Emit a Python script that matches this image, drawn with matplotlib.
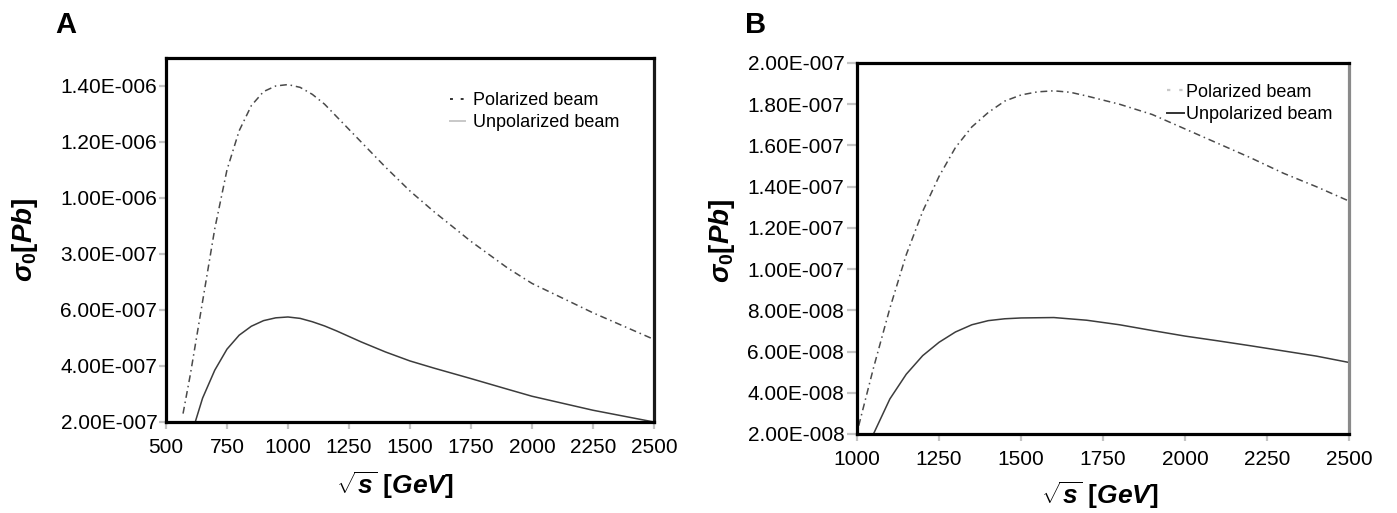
import matplotlib
matplotlib.use("Agg")
import matplotlib.pyplot as plt
from matplotlib.lines import Line2D

plt.rcParams["font.family"] = ["Liberation Sans", "DejaVu Sans"]
plt.rcParams["mathtext.fontset"] = "custom"
plt.rcParams["mathtext.rm"] = "Liberation Sans:bold"
plt.rcParams["mathtext.it"] = "Liberation Sans:bold:italic"
plt.rcParams["mathtext.bf"] = "Liberation Sans:bold:italic"

# Panel A: cross section vs. centre-of-mass energy
a_pol_x = [570, 600, 650, 700, 750, 800, 850, 900, 950, 1000, 1050, 1100, 1150,
           1200, 1250, 1300, 1400, 1500, 1600, 1750, 1900, 2000, 2250, 2500]
a_pol_y = [2.3e-7, 3.7e-7, 6.3e-7, 8.9e-7, 11.0e-7, 12.4e-7, 13.3e-7, 13.8e-7,
           14.0e-7, 14.05e-7, 13.95e-7, 13.7e-7, 13.35e-7, 12.9e-7, 12.45e-7,
           12.0e-7, 11.1e-7, 10.25e-7, 9.5e-7, 8.45e-7, 7.5e-7, 6.95e-7,
           5.9e-7, 4.95e-7]
a_unp_x = [620, 650, 700, 750, 800, 850, 900, 950, 1000, 1050, 1100, 1150, 1200,
           1300, 1400, 1500, 1600, 1750, 1900, 2000, 2250, 2500]
a_unp_y = [2.0e-7, 2.85e-7, 3.85e-7, 4.6e-7, 5.1e-7, 5.42e-7, 5.62e-7, 5.72e-7,
           5.75e-7, 5.7e-7, 5.58e-7, 5.43e-7, 5.25e-7, 4.86e-7, 4.5e-7, 4.18e-7,
           3.92e-7, 3.55e-7, 3.17e-7, 2.92e-7, 2.42e-7, 2.0e-7]
a_xticks = [500, 750, 1000, 1250, 1500, 1750, 2000, 2250, 2500]
a_yticks = [2e-7, 4e-7, 6e-7, 8e-7, 10e-7, 12e-7, 14e-7]
a_ylabels = ["2.00E-007", "4.00E-007", "6.00E-007", "3.00E-007",
             "1.00E-006", "1.20E-006", "1.40E-006"]

# Panel B
b_pol_x = [1005, 1050, 1100, 1150, 1200, 1250, 1300, 1350, 1400, 1450, 1500,
           1550, 1600, 1650, 1700, 1800, 1900, 2000, 2100, 2200, 2300, 2400, 2500]
b_pol_y = [2.4e-8, 5.2e-8, 8.1e-8, 10.7e-8, 12.8e-8, 14.5e-8, 15.9e-8, 16.9e-8,
           17.6e-8, 18.15e-8, 18.45e-8, 18.6e-8, 18.65e-8, 18.58e-8, 18.4e-8,
           18.0e-8, 17.5e-8, 16.8e-8, 16.1e-8, 15.4e-8, 14.65e-8, 14.0e-8, 13.3e-8]
b_unp_x = [1050, 1100, 1150, 1200, 1250, 1300, 1350, 1400, 1450, 1500, 1600, 1700,
           1800, 1900, 2000, 2100, 2200, 2300, 2400, 2500]
b_unp_y = [2.0e-8, 3.7e-8, 4.9e-8, 5.8e-8, 6.45e-8, 6.95e-8, 7.3e-8, 7.5e-8,
           7.59e-8, 7.63e-8, 7.65e-8, 7.52e-8, 7.3e-8, 7.02e-8, 6.75e-8, 6.52e-8,
           6.28e-8, 6.03e-8, 5.78e-8, 5.47e-8]
b_xticks = [1000, 1250, 1500, 1750, 2000, 2250, 2500]
b_yticks = [2e-8, 4e-8, 6e-8, 8e-8, 10e-8, 12e-8, 14e-8, 16e-8, 18e-8, 20e-8]
b_ylabels = ["2.00E-008", "4.00E-008", "6.00E-008", "8.00E-008", "1.00E-007",
             "1.20E-007", "1.40E-007", "1.60E-007", "1.80E-007", "2.00E-007"]

legend_labels = ["Polarized beam", "Unpolarized beam"]

LINE = "#3c3c3c"
DASHDOT = (0, (4.5, 2.5, 1.0, 2.5))
XLABEL = r"$\sqrt{s}\ [GeV]$"
YLABEL = r"$\sigma_0[Pb]$"

fig = plt.figure(figsize=(13.97, 5.13), dpi=100)
ax_a = fig.add_axes([0.1188, 0.1774, 0.3493, 0.7096])
ax_b = fig.add_axes([0.6135, 0.1540, 0.3522, 0.7232])


def style_axes(ax, right_color, ytick_len, ytick_pad):
    for side in ("left", "top", "bottom"):
        ax.spines[side].set_linewidth(2.3)
        ax.spines[side].set_color("black")
    ax.spines["right"].set_linewidth(2.3)
    ax.spines["right"].set_color(right_color)
    ax.tick_params(axis="y", direction="out", length=ytick_len, width=1.6,
                   color="#c4c4c4", pad=ytick_pad, labelsize=15)
    ax.tick_params(axis="x", direction="out", length=5, width=1.6,
                   color="#c4c4c4", pad=6.5, labelsize=15)


# ---- Panel A ----
ax_a.plot(a_pol_x, a_pol_y, color="#4a4a4a", lw=1.1, linestyle=DASHDOT)
ax_a.plot(a_unp_x, a_unp_y, color=LINE, lw=1.1)
ax_a.set_xlim(500, 2500)
ax_a.set_ylim(2e-7, 15e-7)
ax_a.set_xticks(a_xticks)
ax_a.set_xticklabels([str(v) for v in a_xticks])
ax_a.set_yticks(a_yticks)
ax_a.set_yticklabels(a_ylabels)
style_axes(ax_a, "#1a1a1a", 5, 1.2)
ax_a.set_xlabel(XLABEL, fontsize=19)
ax_a.xaxis.set_label_coords(0.469, -0.173)
ax_a.xaxis.label.set_va("center")
ax_a.set_ylabel(YLABEL, fontsize=20)
ax_a.yaxis.set_label_coords(-0.289, 0.5)
ax_a.yaxis.label.set_va("center")

handles_a = [Line2D([], [], color="#333333", lw=1.4, linestyle=(0, (1.5, 4))),
             Line2D([], [], color="#c8c8c8", lw=1.4)]
ax_a.legend(handles_a, legend_labels, loc="upper left",
            bbox_to_anchor=(0.582, 0.907), frameon=False, fontsize=13,
            handlelength=0.85, handletextpad=0.45, labelspacing=0.3,
            borderpad=0, borderaxespad=0)

# ---- Panel B ----
ax_b.plot(b_pol_x, b_pol_y, color="#4a4a4a", lw=1.1, linestyle=DASHDOT)
ax_b.plot(b_unp_x, b_unp_y, color=LINE, lw=1.1)
ax_b.set_xlim(1000, 2500)
ax_b.set_ylim(2e-8, 20e-8)
ax_b.set_xticks(b_xticks)
ax_b.set_xticklabels([str(v) for v in b_xticks])
ax_b.set_yticks(b_yticks)
ax_b.set_yticklabels(b_ylabels)
style_axes(ax_b, "#8a8a8a", 7, 2.2)
ax_b.set_xlabel(XLABEL, fontsize=19)
ax_b.xaxis.set_label_coords(0.494, -0.164)
ax_b.xaxis.label.set_va("center")
ax_b.set_ylabel(YLABEL, fontsize=20)
ax_b.yaxis.set_label_coords(-0.274, 0.52)
ax_b.yaxis.label.set_va("center")

handles_b = [Line2D([], [], color="#c8c8c8", lw=1.6, linestyle=(0, (1.5, 4))),
             Line2D([], [], color="#333333", lw=1.4)]
ax_b.legend(handles_b, legend_labels, loc="upper left",
            bbox_to_anchor=(0.630, 0.944), frameon=False, fontsize=13,
            handlelength=0.95, handletextpad=0.12, labelspacing=0.3,
            borderpad=0, borderaxespad=0)

fig.text(0.0394, 0.9357, "A", fontsize=21, fontweight="bold", ha="left", va="baseline")
fig.text(0.5333, 0.9357, "B", fontsize=21, fontweight="bold", ha="left", va="baseline")

fig.savefig("out.png", dpi=100, facecolor="white")
